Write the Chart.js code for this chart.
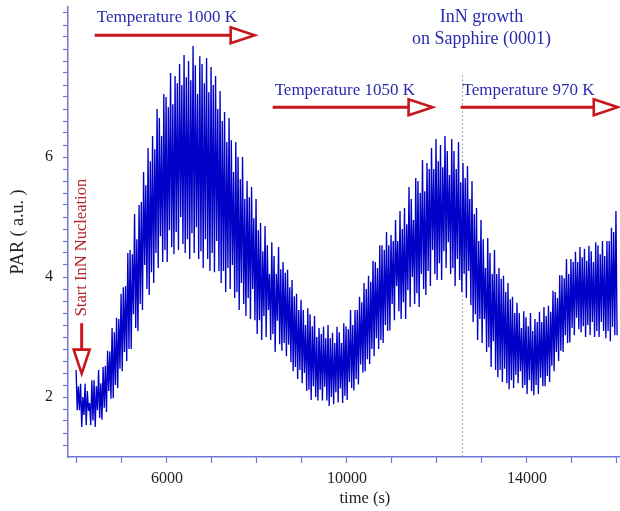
<!DOCTYPE html>
<html>
<head>
<meta charset="utf-8">
<script src="https://cdn.jsdelivr.net/npm/chart.js@4.4.1/dist/chart.umd.min.js"></script>
<style>
  html, body { margin: 0; padding: 0; background: #fff; }
  canvas { display: block; }
</style>
</head>
<body>
<canvas id="chart" width="620" height="511"></canvas>
<script>
// PAR trace, one sample every 50 s from 3980 s.
// peakPAR / dipPAR are the upper and lower turning points of the fast oscillation.
const sampleStart = 3980;
const sampleStep = 50;

const peakPAR = [
  2.45, 2.18, 2.22, 2.00, 2.22, 2.10, 1.90, 2.28, 2.28, 2.18,
  2.45, 2.23, 2.50, 2.52, 2.77, 2.76, 3.15, 3.08, 3.32, 3.30,
  3.72, 3.83, 3.85, 4.40, 4.45, 4.38, 5.05, 4.63, 5.20, 5.25,
  5.75, 5.53, 6.15, 5.93, 6.35, 6.13, 6.80, 6.65, 6.35, 7.05,
  7.00, 6.83, 7.40, 6.88, 7.35, 7.23, 7.55, 7.20, 7.70, 7.33,
  7.60, 7.28, 7.85, 7.53, 7.05, 7.68, 7.55, 7.23, 7.65, 7.08,
  7.50, 7.20, 7.35, 6.80, 7.10, 6.60, 6.75, 6.25, 6.65, 6.28,
  5.75, 6.25, 6.00, 5.63, 6.00, 5.30, 5.60, 5.33, 5.50, 4.98,
  5.30, 4.78, 4.90, 4.43, 4.85, 4.53, 4.05, 4.58, 4.35, 4.05,
  4.50, 4.13, 4.25, 4.07, 4.12, 3.83, 3.95, 3.68, 3.72, 3.45,
  3.62, 3.45, 3.20, 3.48, 3.38, 3.18, 3.35, 3.00, 3.15, 3.05,
  3.17, 2.98, 3.20, 2.98, 3.07, 2.90, 3.17, 3.08, 2.90, 3.23,
  3.18, 3.13, 3.45, 3.20, 3.45, 3.45, 3.67, 3.58, 3.90, 3.80,
  4.02, 3.92, 4.27, 4.25, 4.15, 4.53, 4.53, 4.45, 4.75, 4.53,
  4.70, 4.60, 4.95, 4.60, 5.10, 4.80, 5.15, 4.88, 5.50, 5.30,
  4.95, 5.65, 5.60, 5.40, 5.95, 5.43, 5.90, 5.80, 6.15, 5.80,
  6.30, 5.93, 6.20, 5.83, 6.35, 6.10, 5.70, 6.30, 6.10, 5.80,
  6.25, 5.58, 5.90, 5.65, 5.85, 5.30, 5.60, 5.05, 5.15, 4.60,
  4.95, 4.63, 4.15, 4.65, 4.40, 4.05, 4.45, 4.05, 4.15, 3.97,
  4.02, 3.75, 3.90, 3.63, 3.67, 3.40, 3.57, 3.40, 3.15, 3.43,
  3.33, 3.18, 3.40, 3.10, 3.30, 3.25, 3.42, 3.25, 3.50, 3.35,
  3.52, 3.42, 3.77, 3.75, 3.65, 4.03, 4.03, 3.98, 4.30, 4.05,
  4.30, 4.25, 4.42, 4.25, 4.50, 4.33, 4.47, 4.27, 4.52, 4.43,
  4.25, 4.58, 4.53, 4.38, 4.60, 4.35, 4.60, 4.60, 4.82, 4.75,
  5.10
];

const dipPAR = [
  1.78, 1.78, 1.50, 1.70, 1.53, 1.77, 1.53, 1.61, 1.50, 1.78,
  1.65, 1.62, 1.82, 1.75, 2.10, 1.97, 1.98, 2.20, 2.15, 2.47,
  2.43, 2.75, 2.60, 2.80, 2.80, 3.38, 3.15, 3.10, 3.55, 3.45,
  4.20, 3.80, 3.70, 4.08, 3.90, 4.40, 4.15, 4.68, 4.25, 4.45,
  4.25, 4.78, 4.50, 4.38, 4.75, 4.45, 5.00, 4.55, 4.40, 4.63,
  4.30, 4.73, 4.40, 4.83, 4.30, 4.43, 4.15, 4.63, 4.30, 4.10,
  4.40, 4.08, 4.60, 4.10, 3.90, 4.10, 3.75, 4.15, 3.80, 4.20,
  3.65, 3.75, 3.45, 3.90, 3.55, 3.35, 3.65, 3.30, 3.80, 3.28,
  3.05, 3.28, 2.95, 3.35, 3.00, 3.45, 2.95, 3.05, 2.75, 3.27,
  2.88, 2.77, 2.90, 2.68, 2.87, 2.58, 2.43, 2.50, 2.30, 2.45,
  2.23, 2.40, 2.10, 2.12, 1.95, 2.18, 2.00, 1.94, 2.12, 1.94,
  2.17, 1.94, 1.85, 2.00, 1.88, 2.08, 1.91, 2.14, 1.90, 2.02,
  1.95, 2.25, 2.15, 2.11, 2.30, 2.21, 2.54, 2.41, 2.43, 2.63,
  2.55, 2.80, 2.68, 2.98, 2.80, 2.95, 2.90, 3.20, 3.10, 3.11,
  3.55, 3.28, 3.85, 3.43, 3.30, 3.58, 3.30, 3.78, 3.50, 4.00,
  3.55, 3.73, 3.50, 4.05, 3.80, 3.70, 4.10, 3.85, 4.45, 4.05,
  3.95, 4.23, 3.95, 4.43, 4.15, 4.58, 4.05, 4.15, 3.85, 4.30,
  3.95, 3.75, 4.05, 3.65, 4.10, 3.53, 3.25, 3.38, 2.95, 3.30,
  2.90, 3.30, 2.75, 2.83, 2.50, 2.93, 2.45, 2.33, 2.45, 2.25,
  2.47, 2.23, 2.13, 2.28, 2.15, 2.37, 2.23, 2.43, 2.15, 2.20,
  2.05, 2.28, 2.10, 2.03, 2.20, 2.05, 2.32, 2.18, 2.18, 2.35,
  2.25, 2.52, 2.43, 2.75, 2.60, 2.77, 2.75, 3.03, 2.90, 2.91,
  3.15, 3.03, 3.32, 3.13, 3.08, 3.18, 3.00, 3.20, 3.03, 3.25,
  3.00, 3.10, 3.00, 3.25, 3.10, 2.98, 3.10, 2.93, 3.17, 3.03,
  3.03
];

const xTickLabels = [6000, 10000, 14000];
const yTickLabels = [2, 4, 6];

// growth stages (time in s, height in PAR units)
const stages = [
  { text: "Temperature 1000 K", from: 4393, to: 7949, arrowAt: 8.03, textAt: 8.33 },
  { text: "Temperature 1050 K", from: 8349, to: 11904, arrowAt: 6.83, textAt: 7.10 },
  { text: "Temperature 970 K", from: 12527, to: 16020, arrowAt: 6.83, textAt: 7.10 }
];
const stageChange = 12550;   // dotted marker between 1050 K and 970 K
const nucleationTime = 4104;

const serif = "'Liberation Serif', 'Times New Roman', serif";
const axisBlue = "#7175d6";
const noteBlue = "#2a2ab0";
const arrowRed = "#c8161c";

// zig-zag through the turning points: peak at t, dip half a step later
const parPoints = [];
peakPAR.forEach((hi, i) => {
  const t = sampleStart + i * sampleStep;
  parPoints.push({ x: t, y: hi }, { x: t + sampleStep / 2, y: dipPAR[i] });
});

function drawArrow(ctx, x1, y1, x2, y2) {
  const ang = Math.atan2(y2 - y1, x2 - x1);
  const headLen = 24, headHalf = 8;
  const bx = x2 - headLen * Math.cos(ang);
  const by = y2 - headLen * Math.sin(ang);
  const nx = -Math.sin(ang) * headHalf;
  const ny = Math.cos(ang) * headHalf;
  ctx.lineWidth = 3;
  ctx.beginPath();
  ctx.moveTo(x1, y1);
  ctx.lineTo(bx, by);
  ctx.stroke();
  ctx.lineWidth = 2.6;
  ctx.beginPath();
  ctx.moveTo(bx + nx, by + ny);
  ctx.lineTo(x2, y2);
  ctx.lineTo(bx - nx, by - ny);
  ctx.closePath();
  ctx.stroke();
}

const notes = {
  id: "notes",
  beforeDatasetsDraw(chart) {
    const { ctx, scales: { x, y }, chartArea } = chart;
    ctx.save();
    ctx.strokeStyle = "#8a8a8a";
    ctx.lineWidth = 1;
    ctx.setLineDash([1.5, 2.5]);
    const px = Math.round(x.getPixelForValue(stageChange)) + 0.5;
    ctx.beginPath();
    ctx.moveTo(px, y.getPixelForValue(7.36));
    ctx.lineTo(px, chartArea.bottom);
    ctx.stroke();
    ctx.restore();
  },
  afterDatasetsDraw(chart) {
    const { ctx, scales: { x, y }, chartArea } = chart;
    ctx.save();
    ctx.lineJoin = "miter";
    ctx.strokeStyle = arrowRed;

    // stage labels and arrows
    ctx.font = "17px " + serif;
    ctx.fillStyle = noteBlue;
    ctx.textAlign = "left";
    ctx.textBaseline = "middle";
    stages.forEach(s => {
      ctx.fillText(s.text, x.getPixelForValue(s.from) + 2, y.getPixelForValue(s.textAt));
      const ay = y.getPixelForValue(s.arrowAt);
      drawArrow(ctx, x.getPixelForValue(s.from), ay, x.getPixelForValue(s.to), ay);
    });

    // sample caption
    ctx.font = "18px " + serif;
    ctx.textAlign = "center";
    const cx = x.getPixelForValue(12993);
    ctx.fillText("InN growth", cx, y.getPixelForValue(8.33));
    ctx.fillText("on Sapphire (0001)", cx, y.getPixelForValue(7.96));

    // nucleation marker
    const nx = x.getPixelForValue(nucleationTime);
    ctx.save();
    ctx.translate(nx, y.getPixelForValue(4.49));
    ctx.rotate(-Math.PI / 2);
    ctx.font = "16.5px " + serif;
    ctx.fillStyle = "#b3262b";
    ctx.fillText("Start InN Nucleation", 0, 0);
    ctx.restore();
    drawArrow(ctx, nx, y.getPixelForValue(3.23), nx, y.getPixelForValue(2.39));

    // axis titles
    ctx.fillStyle = "#222";
    ctx.font = "16.5px " + serif;
    ctx.fillText("time (s)", x.getPixelForValue(10400), 499);
    ctx.save();
    ctx.translate(18, (chartArea.top + chartArea.bottom) / 2);
    ctx.rotate(-Math.PI / 2);
    ctx.font = "18px " + serif;
    ctx.fillText("PAR ( a.u. )", 0, 0);
    ctx.restore();

    ctx.restore();
  }
};

function tickList(from, to, step) {
  const list = [];
  for (let v = from; v <= to + 1e-9; v += step) list.push({ value: Math.round(v * 10) / 10 });
  return list;
}

new Chart(document.getElementById("chart").getContext("2d"), {
  type: "line",
  data: {
    datasets: [{
      data: parPoints,
      borderColor: "#0000c8",
      borderWidth: 1.35,
      pointRadius: 0,
      tension: 0,
      fill: false
    }]
  },
  options: {
    responsive: false,
    animation: false,
    devicePixelRatio: 1,
    layout: { padding: { top: 7, right: 0, left: 0, bottom: 0 } },
    plugins: {
      legend: { display: false },
      tooltip: { enabled: false }
    },
    scales: {
      x: {
        type: "linear",
        min: 3800,
        max: 16070,
        afterBuildTicks(scale) { scale.ticks = tickList(4000, 16000, 1000); },
        afterFit(scale) {
          scale.height = 54;
          scale.paddingLeft = 0;
          scale.paddingRight = 0;
        },
        border: { color: axisBlue, width: 1.5 },
        grid: { drawOnChartArea: false, tickLength: 6, tickColor: axisBlue, tickWidth: 1.2 },
        ticks: {
          autoSkip: false,
          maxRotation: 0,
          padding: 6,
          color: "#222",
          font: { family: serif, size: 16 },
          callback: v => xTickLabels.includes(v) ? String(v) : ""
        }
      },
      y: {
        min: 1,
        max: 8.5,
        afterBuildTicks(scale) { scale.ticks = tickList(1.2, 8.4, 0.2); },
        afterFit(scale) {
          scale.width = 68;
          scale.paddingTop = 0;
          scale.paddingBottom = 0;
        },
        border: { color: axisBlue, width: 1.5 },
        grid: { drawOnChartArea: false, tickLength: 5, tickColor: axisBlue, tickWidth: 1.2 },
        ticks: {
          autoSkip: false,
          padding: 10,
          color: "#222",
          font: { family: serif, size: 16 },
          callback: v => {
            const r = Math.round(v);
            return Math.abs(v - r) < 1e-6 && yTickLabels.includes(r) ? String(r) : "";
          }
        }
      }
    }
  },
  plugins: [notes]
});
</script>
</body>
</html>
